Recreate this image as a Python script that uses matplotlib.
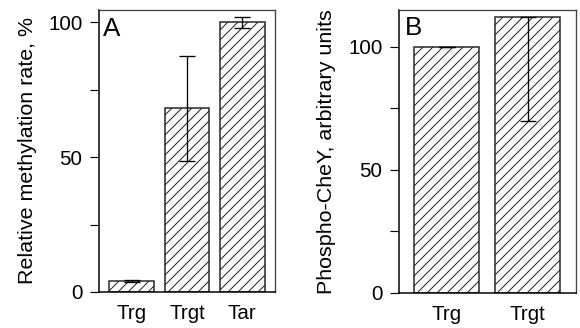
import matplotlib.pyplot as plt
import numpy as np

plt.rcParams['font.family'] = ['Liberation Sans', 'DejaVu Sans']
plt.rcParams['hatch.linewidth'] = 0.6

# panel A
cats_a = ['Trg', 'Trgt', 'Tar']
rate_a = [4, 68, 100]
err_a = [0.4, 19.5, 2]

# panel B
cats_b = ['Trg', 'Trgt']
chey_b = [100, 112]
err_b_low = [0, 42]
err_b_up = [0, 0]

yticks = [0, 25, 50, 75, 100]
ytick_labels = ['0', '', '50', '', '100']

fig = plt.figure(figsize=(580 / 120, 328 / 120), dpi=120)
axA = fig.add_axes([0.1707, 0.1098, 0.3034, 0.8598])
axB = fig.add_axes([0.688, 0.1076, 0.305, 0.862])


def style(ax, ylabel, letter, lx, ly):
    ax.set_yticks(yticks)
    ax.set_yticklabels(ytick_labels)
    ax.tick_params(axis='y', direction='out', length=5.4, width=0.7, pad=4.5, labelsize=12.3)
    ax.tick_params(axis='x', length=0, pad=7.5, labelsize=12.3)
    for s in ['left', 'bottom']:
        ax.spines[s].set_linewidth(0.9)
        ax.spines[s].set_color('black')
    for s in ['top', 'right']:
        ax.spines[s].set_linewidth(0.8)
        ax.spines[s].set_color('#444444')
    ax.set_ylabel(ylabel, fontsize=12.9)
    ax.text(lx, ly, letter, transform=ax.transAxes, fontsize=15.6, ha='left', va='top')


xa = np.arange(len(cats_a))
axA.bar(xa, rate_a, width=0.81, color='white', edgecolor='#222222', linewidth=0.9, hatch='////')
axA.errorbar(xa, rate_a, yerr=err_a, fmt='none', ecolor='black', elinewidth=0.8, capsize=5, capthick=0.8)
axA.set_xticks(xa)
axA.set_xticklabels(cats_a)
axA.set_xlim(-0.59, 2.59)
axA.set_ylim(0, 104.5)
style(axA, 'Relative methylation rate, %', 'A', 0.022, 0.975)
axA.yaxis.set_label_coords(-0.35, 0.5)

xb = np.arange(len(cats_b))
axB.bar(xb, chey_b, width=0.805, color='white', edgecolor='#222222', linewidth=0.9, hatch='////')
axB.errorbar(xb, chey_b, yerr=[err_b_low, err_b_up], fmt='none', ecolor='black', elinewidth=0.8, capsize=5, capthick=0.8)
axB.set_xticks(xb)
axB.set_xticklabels(cats_b)
axB.set_xlim(-0.592, 1.60)
axB.set_ylim(0, 115)
style(axB, 'Phospho-CheY, arbitrary units', 'B', 0.033, 0.98)
axB.yaxis.set_label_coords(-0.355, 0.5)

fig.savefig('out.png', dpi=120)
